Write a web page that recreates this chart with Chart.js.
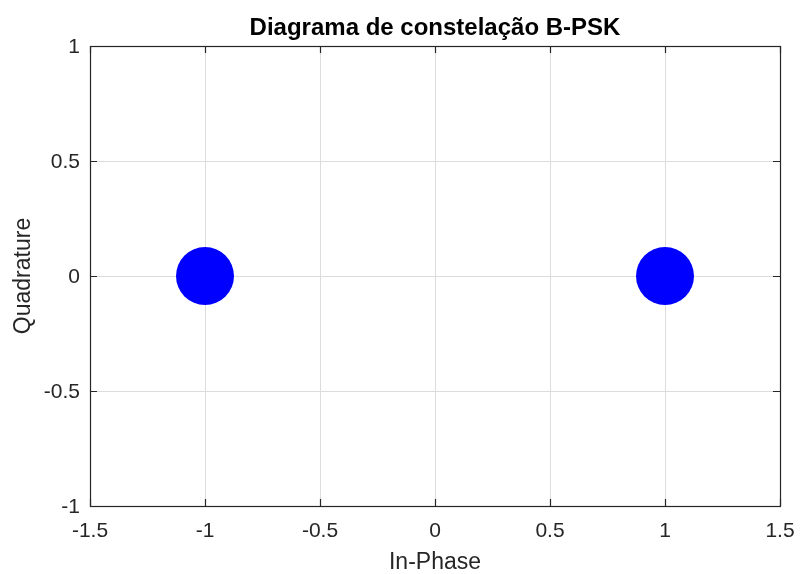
<!DOCTYPE html>
<html>
<head>
<meta charset="utf-8">
<script src="https://cdn.jsdelivr.net/npm/chart.js@4.4.1/dist/chart.umd.min.js"></script>
<style>
  html, body { margin: 0; padding: 0; background: #ffffff; }
  #wrap { width: 800px; height: 574px; }
</style>
</head>
<body>
<div id="wrap"><canvas id="c" width="800" height="574"></canvas></div>
<script>
// B-PSK symbols: in-phase and quadrature components
const inPhase = [-1, 1];
const quadrature = [0, 0];

// Axis tick values
const xTicks = [-1.5, -1, -0.5, 0, 0.5, 1, 1.5];
const yTicks = [-1, -0.5, 0, 0.5, 1];

const titleText = 'Diagrama de constelação B-PSK';
const xTitle = 'In-Phase';
const yTitle = 'Quadrature';

const ink = '#262626';
const gridColor = '#dcdcdc';
const fontFamily = '"Liberation Sans", Arial, Helvetica, sans-serif';
const tickFont = '21px ' + fontFamily;

// Box around the axes, inward tick marks and tick labels
const boxPlugin = {
  id: 'axesBox',
  afterDatasetsDraw(chart) {
    const { ctx, chartArea: a, scales } = chart;
    const len = 7;
    ctx.save();
    ctx.strokeStyle = ink;
    ctx.lineWidth = 1.2;
    ctx.beginPath();
    scales.x.ticks.forEach(t => {
      const px = Math.round(scales.x.getPixelForValue(t.value)) + 0.5;
      ctx.moveTo(px, a.bottom); ctx.lineTo(px, a.bottom - len);
      ctx.moveTo(px, a.top); ctx.lineTo(px, a.top + len);
    });
    scales.y.ticks.forEach(t => {
      const py = Math.round(scales.y.getPixelForValue(t.value)) + 0.5;
      ctx.moveTo(a.left, py); ctx.lineTo(a.left + len, py);
      ctx.moveTo(a.right, py); ctx.lineTo(a.right - len, py);
    });
    ctx.stroke();
    ctx.strokeRect(Math.round(a.left) + 0.5, Math.round(a.top) + 0.5,
                   Math.round(a.right - a.left), Math.round(a.bottom - a.top));

    ctx.fillStyle = ink;
    ctx.font = tickFont;
    ctx.textBaseline = 'middle';
    ctx.textAlign = 'center';
    scales.x.ticks.forEach(t => {
      ctx.fillText(String(t.value), scales.x.getPixelForValue(t.value), a.bottom + 25);
    });
    ctx.textAlign = 'right';
    scales.y.ticks.forEach(t => {
      ctx.fillText(String(t.value), a.left - 10, scales.y.getPixelForValue(t.value) + 1);
    });
    ctx.restore();
  }
};

new Chart(document.getElementById('c'), {
  type: 'scatter',
  data: {
    datasets: [{
      data: inPhase.map((x, i) => ({ x: x, y: quadrature[i] })),
      backgroundColor: '#0000ff',
      borderWidth: 0,
      pointRadius: 29,
      pointHoverRadius: 29
    }]
  },
  options: {
    responsive: false,
    animation: false,
    events: [],
    layout: { autoPadding: false, padding: { top: 0, left: 0, right: 20, bottom: 0 } },
    plugins: {
      legend: { display: false },
      tooltip: { enabled: false },
      title: {
        display: true,
        text: titleText,
        fullSize: false,
        color: '#000000',
        font: { family: fontFamily, size: 24, weight: 'bold', lineHeight: 1.2 },
        padding: { top: 14, bottom: 3.2 }
      }
    },
    scales: {
      x: {
        type: 'linear',
        min: xTicks[0],
        max: xTicks[xTicks.length - 1],
        afterBuildTicks: s => { s.ticks = xTicks.map(v => ({ value: v })); },
        afterFit: s => { s.height = 68; },
        grid: { color: gridColor, drawTicks: false, lineWidth: 1 },
        border: { display: false },
        ticks: { display: false },
        title: {
          display: true,
          text: xTitle,
          color: ink,
          font: { family: fontFamily, size: 23, lineHeight: 1 },
          padding: { top: 0, bottom: 0 }
        }
      },
      y: {
        type: 'linear',
        min: yTicks[0],
        max: yTicks[yTicks.length - 1],
        afterBuildTicks: s => { s.ticks = yTicks.map(v => ({ value: v })); },
        afterFit: s => { s.width = 90; },
        grid: { color: gridColor, drawTicks: false, lineWidth: 1 },
        border: { display: false },
        ticks: { display: false },
        title: {
          display: true,
          text: yTitle,
          color: ink,
          font: { family: fontFamily, size: 23, lineHeight: 1 },
          padding: { top: 12, bottom: 0 }
        }
      }
    }
  },
  plugins: [boxPlugin]
});
</script>
</body>
</html>
